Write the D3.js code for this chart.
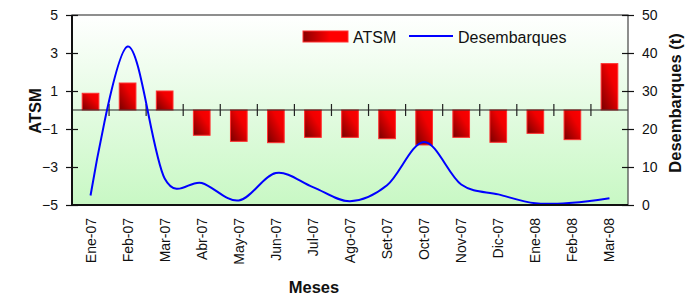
<!DOCTYPE html>
<html><head><meta charset="utf-8">
<script src="https://cdn.jsdelivr.net/npm/d3@7"></script>
<style>body{margin:0;background:#fff}svg{display:block;font-family:Arial,"Liberation Sans",sans-serif}</style>
</head><body><svg id="c" width="700" height="297"></svg>
<script>
const months = ["Ene-07","Feb-07","Mar-07","Abr-07","May-07","Jun-07","Jul-07","Ago-07","Set-07","Oct-07","Nov-07","Dic-07","Ene-08","Feb-08","Mar-08"];
const atsm = [0.88,1.42,1.0,-1.33,-1.65,-1.72,-1.44,-1.44,-1.51,-1.84,-1.44,-1.70,-1.23,-1.56,2.44];
const desembarques = [2.5,41.7,7.0,5.8,1.2,8.4,4.7,1.0,5.2,16.6,5.4,2.8,0.45,0.6,1.8];
const leftTicks = [5,3,1,-1,-3,-5];
const rightTicks = [0,10,20,30,40,50];

const svg = d3.select("#c");
const L=72,R=628,T=15,B=205;
const x = d3.scaleBand().domain(months).range([L,R]).paddingInner(0).paddingOuter(0);
const yL = d3.scaleLinear().domain([-5,5]).range([B,T]);
const yR = d3.scaleLinear().domain([0,50]).range([B,T]);

const defs = svg.append("defs");
const bg = defs.append("linearGradient").attr("id","bg").attr("x1",0).attr("y1",0).attr("x2",0).attr("y2",1);
bg.append("stop").attr("offset",0).attr("stop-color","#ffffff");
bg.append("stop").attr("offset",1).attr("stop-color","#c8f8c4");
const bar = defs.append("linearGradient").attr("id","bar").attr("x1",1).attr("y1",0).attr("x2",0).attr("y2",1);
bar.append("stop").attr("offset",0).attr("stop-color","#ff0000");
bar.append("stop").attr("offset",0.35).attr("stop-color","#f00000");
bar.append("stop").attr("offset",1).attr("stop-color","#780000");
const lg = defs.append("linearGradient").attr("id","lg").attr("x1",0).attr("y1",0).attr("x2",1).attr("y2",0);
lg.append("stop").attr("offset",0).attr("stop-color","#8a0000");
lg.append("stop").attr("offset",0.6).attr("stop-color","#ff0000");
lg.append("stop").attr("offset",1).attr("stop-color","#ff0000");

svg.append("rect").attr("x",L).attr("y",T).attr("width",R-L).attr("height",B-T).attr("fill","url(#bg)");

// bars
const bw = x.bandwidth()*0.45;
svg.append("g").selectAll("rect").data(months).join("rect")
  .attr("x",(d)=>x(d)+x.bandwidth()/2-bw/2)
  .attr("y",(d,i)=>yL(Math.max(0,atsm[i])))
  .attr("width",bw)
  .attr("height",(d,i)=>Math.abs(yL(atsm[i])-yL(0)))
  .attr("fill","url(#bar)").attr("stroke","#ff3030").attr("stroke-width",1);

// zero line with cross ticks
svg.append("line").attr("x1",L).attr("x2",R).attr("y1",yL(0)).attr("y2",yL(0)).attr("stroke","#222").attr("stroke-width",1.2);
svg.append("g").selectAll("line").data(months.slice(1)).join("line")
  .attr("x1",d=>x(d)).attr("x2",d=>x(d)).attr("y1",yL(0)-6).attr("y2",yL(0)+6)
  .attr("stroke","#222").attr("stroke-width",1.2);

// line
const line = d3.line().x((d,i)=>x(months[i])+x.bandwidth()/2).y(d=>yR(d)).curve(d3.curveCardinal.tension(0));
svg.append("path").datum(desembarques).attr("d",line).attr("fill","none").attr("stroke","#0000ff").attr("stroke-width",2);

// frame
svg.append("rect").attr("x",L).attr("y",T).attr("width",R-L).attr("height",B-T).attr("fill","none").attr("stroke","#444").attr("stroke-width",1.2);
svg.append("line").attr("x1",L).attr("x2",L).attr("y1",T).attr("y2",B).attr("stroke","#111").attr("stroke-width",2);
svg.append("line").attr("x1",L).attr("x2",R).attr("y1",B).attr("y2",B).attr("stroke","#111").attr("stroke-width",2);

// left axis
const gl = svg.append("g").attr("transform",`translate(${L},0)`)
  .call(d3.axisLeft(yL).tickValues(leftTicks).tickSize(6).tickPadding(8).tickFormat(d3.format("d")));
gl.select(".domain").remove();
gl.selectAll(".tick line").attr("x2",-6).attr("x1",6).attr("stroke","#111").attr("stroke-width",1.2);
gl.selectAll("text").attr("font-size",14).attr("fill","#111").attr("font-family","Arial, Liberation Sans, sans-serif");

// right axis
const gr = svg.append("g").attr("transform",`translate(${R},0)`)
  .call(d3.axisRight(yR).tickValues(rightTicks).tickSize(6).tickPadding(8).tickFormat(d3.format("d")));
gr.select(".domain").remove();
gr.selectAll(".tick line").attr("x1",-6).attr("x2",6).attr("stroke","#111").attr("stroke-width",1.2);
gr.selectAll("text").attr("font-size",14).attr("fill","#111").attr("font-family","Arial, Liberation Sans, sans-serif");

// x labels
svg.append("g").selectAll("text").data(months).join("text")
  .attr("transform",d=>`translate(${x(d)+x.bandwidth()/2+5},${B+13}) rotate(-90)`)
  .attr("text-anchor","end").attr("font-size",14).attr("fill","#111").text(d=>d);

// titles
svg.append("text").attr("transform",`translate(41,111) rotate(-90)`).attr("text-anchor","middle")
  .attr("font-size",16.5).attr("font-weight","bold").attr("fill","#111").text("ATSM");
svg.append("text").attr("transform",`translate(681,103) rotate(-90)`).attr("text-anchor","middle")
  .attr("font-size",16.5).attr("font-weight","bold").attr("fill","#111").text("Desembarques (t)");
svg.append("text").attr("x",314).attr("y",293).attr("text-anchor","middle")
  .attr("font-size",16.5).attr("font-weight","bold").attr("fill","#111").text("Meses");

// legend
svg.append("rect").attr("x",303).attr("y",31).attr("width",45).attr("height",11).attr("fill","url(#lg)").attr("stroke","#ff3030").attr("stroke-width",1);
svg.append("text").attr("x",353).attr("y",42.5).attr("font-size",16).attr("fill","#111").text("ATSM");
svg.append("line").attr("x1",409).attr("x2",453).attr("y1",36).attr("y2",36).attr("stroke","#0000ff").attr("stroke-width",2);
svg.append("text").attr("x",458).attr("y",42.5).attr("font-size",16).attr("fill","#111").text("Desembarques");
</script></body></html>
